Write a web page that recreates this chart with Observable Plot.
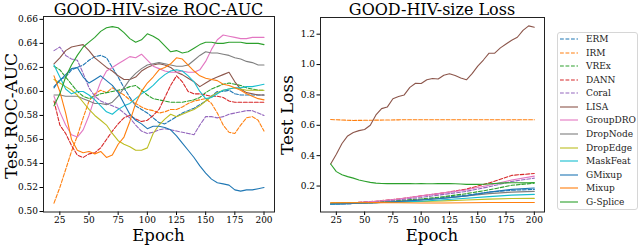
<!DOCTYPE html>
<html><head><meta charset="utf-8">
<script src="https://cdn.jsdelivr.net/npm/d3@7"></script>
<script src="https://cdn.jsdelivr.net/npm/@observablehq/plot@0.6"></script>
<style>
body{margin:0;background:#fff;}
#wrap{position:relative;width:640px;height:246px;font-family:"DejaVu Serif",serif;color:#000;overflow:hidden;background:#fff}
.abs{position:absolute;white-space:nowrap}
.title{font-size:16px;line-height:normal;transform:translateX(-50%)}
.xlab{font-size:16.5px;line-height:14px;transform:translateX(-50%)}
.ylab{font-size:17px;line-height:14px;transform:translate(-50%,-50%) rotate(-90deg)}
#legend{position:absolute;left:557px;top:32px;width:81px;height:178px;border:1px solid #d6d6d6;border-radius:3px;box-sizing:border-box;background:#fff;font-family:"DejaVu Serif",serif}
.lrow{position:absolute;left:0;width:78px;height:12px;font-size:9px;line-height:12px;color:#222;white-space:nowrap}
.lrow svg{position:absolute;left:2px;top:0}
.lrow span{position:absolute;left:28px;top:0}
</style></head>
<body>
<div id="wrap">
  <div id="plotL" class="abs" style="left:0;top:0"></div>
  <div id="plotR" class="abs" style="left:270px;top:0"></div>
  <div class="abs title" style="left:158.5px;top:0px">GOOD-HIV-size ROC-AUC</div>
  <div class="abs title" style="left:432px;top:0px">GOOD-HIV-size Loss</div>
  <div class="abs xlab" style="left:158.5px;top:229px">Epoch</div>
  <div class="abs xlab" style="left:432px;top:229px">Epoch</div>
  <div class="abs ylab" style="left:11px;top:116px">Test ROC-AUC</div>
  <div class="abs ylab" style="left:287px;top:115px">Test Loss</div>
  <div id="legend"></div>
</div>
<script>
const methods = ["ERM","IRM","VREx","DANN","Coral","LISA","GroupDRO","DropNode","DropEdge","MaskFeat","GMixup","Mixup","G-Splice"];
const palette = ["#1f77b4","#ff7f0e","#2ca02c","#d62728","#9467bd","#8c564b","#e377c2","#7f7f7f","#bcbd22","#17becf","#1f77b4","#ff7f0e","#2ca02c"];
const dashedMethods = ["ERM","IRM","VREx","DANN","Coral"];

const xTicks = [25,50,75,100,125,150,175,200];
const aucTicks = [0.50,0.52,0.54,0.56,0.58,0.60,0.62,0.64,0.66];
const lossTicks = [0.2,0.4,0.6,0.8,1.0,1.2];

const epochs = [20,25,30,35,40,45,50,55,60,65,70,75,80,85,90,95,100,105,110,115,120,125,130,135,140,145,150,155,160,165,170,175,180,185,190,195,200];

const aucERM      = [0.603,0.610,0.612,0.618,0.620,0.622,0.626,0.629,0.630,0.628,0.620,0.612,0.603,0.595,0.588,0.585,0.582,0.578,0.574,0.573,0.576,0.579,0.582,0.584,0.586,0.589,0.592,0.596,0.600,0.600,0.601,0.598,0.597,0.597,0.597,0.597,0.597];
const aucIRM      = [0.507,0.520,0.535,0.550,0.563,0.578,0.592,0.598,0.601,0.599,0.603,0.600,0.597,0.593,0.590,0.587,0.585,0.584,0.582,0.583,0.585,0.585,0.587,0.590,0.592,0.593,0.594,0.590,0.582,0.572,0.566,0.565,0.572,0.578,0.579,0.576,0.567];
const aucVREx     = [0.621,0.618,0.612,0.606,0.600,0.596,0.594,0.596,0.598,0.599,0.600,0.601,0.602,0.604,0.605,0.601,0.597,0.594,0.593,0.592,0.591,0.591,0.591,0.592,0.593,0.595,0.599,0.602,0.604,0.606,0.607,0.606,0.605,0.603,0.602,0.601,0.601];
const aucDANN     = [0.592,0.572,0.565,0.555,0.547,0.545,0.548,0.549,0.553,0.560,0.567,0.573,0.578,0.580,0.577,0.575,0.576,0.580,0.585,0.595,0.605,0.613,0.608,0.600,0.598,0.598,0.597,0.596,0.596,0.595,0.592,0.591,0.591,0.591,0.591,0.591,0.591];
const aucCoral    = [0.634,0.637,0.630,0.627,0.626,0.615,0.603,0.596,0.592,0.590,0.588,0.586,0.582,0.578,0.572,0.567,0.565,0.566,0.568,0.569,0.568,0.567,0.566,0.565,0.564,0.572,0.579,0.579,0.578,0.579,0.581,0.582,0.583,0.584,0.584,0.582,0.580];
const aucLISA     = [0.623,0.628,0.634,0.637,0.638,0.639,0.634,0.628,0.624,0.620,0.617,0.613,0.610,0.610,0.612,0.617,0.620,0.622,0.623,0.622,0.620,0.616,0.614,0.611,0.608,0.604,0.607,0.610,0.612,0.614,0.616,0.608,0.602,0.599,0.598,0.597,0.597];
const aucGroupDRO = [0.596,0.583,0.572,0.564,0.562,0.568,0.580,0.595,0.608,0.617,0.620,0.623,0.626,0.629,0.628,0.631,0.626,0.621,0.619,0.617,0.616,0.616,0.617,0.616,0.616,0.618,0.625,0.635,0.643,0.647,0.646,0.645,0.644,0.644,0.645,0.645,0.645];
const aucDropNode = [0.597,0.597,0.596,0.596,0.596,0.594,0.592,0.590,0.590,0.589,0.591,0.596,0.603,0.610,0.615,0.619,0.622,0.623,0.624,0.623,0.622,0.621,0.621,0.622,0.626,0.630,0.633,0.632,0.632,0.631,0.630,0.628,0.627,0.625,0.624,0.622,0.622];
const aucDropEdge = [0.610,0.607,0.604,0.601,0.597,0.591,0.585,0.580,0.576,0.572,0.565,0.559,0.556,0.554,0.551,0.551,0.553,0.565,0.572,0.577,0.581,0.579,0.581,0.583,0.585,0.588,0.592,0.596,0.599,0.601,0.602,0.603,0.602,0.601,0.601,0.601,0.601];
const aucMaskFeat = [0.622,0.612,0.602,0.598,0.600,0.600,0.597,0.593,0.588,0.583,0.581,0.585,0.588,0.590,0.594,0.598,0.601,0.605,0.610,0.614,0.617,0.618,0.617,0.613,0.608,0.600,0.594,0.595,0.598,0.601,0.602,0.603,0.603,0.604,0.604,0.605,0.606];
const aucGMixup   = [0.604,0.609,0.614,0.619,0.620,0.612,0.607,0.610,0.613,0.609,0.605,0.599,0.590,0.581,0.576,0.573,0.569,0.571,0.571,0.570,0.568,0.563,0.557,0.551,0.545,0.538,0.532,0.527,0.524,0.523,0.522,0.518,0.517,0.518,0.518,0.519,0.520];
const aucMixup    = [0.613,0.600,0.582,0.560,0.551,0.549,0.550,0.548,0.550,0.545,0.547,0.556,0.562,0.575,0.590,0.600,0.607,0.612,0.618,0.620,0.623,0.628,0.627,0.622,0.617,0.613,0.611,0.610,0.609,0.606,0.605,0.603,0.601,0.598,0.596,0.594,0.593];
const aucGSplice  = [0.588,0.598,0.612,0.622,0.630,0.637,0.641,0.645,0.650,0.653,0.654,0.653,0.649,0.644,0.641,0.643,0.648,0.646,0.643,0.638,0.633,0.634,0.632,0.633,0.636,0.639,0.641,0.641,0.640,0.640,0.641,0.641,0.641,0.640,0.640,0.640,0.639];

const lossEpochs = [20,40,60,80,100,120,140,160,180,200];
const lossERM      = [0.080,0.085,0.090,0.100,0.110,0.125,0.140,0.160,0.172,0.178];
const lossIRM      = [0.638,0.632,0.634,0.636,0.637,0.637,0.637,0.637,0.637,0.637];
const lossVREx     = [0.085,0.090,0.095,0.105,0.115,0.130,0.150,0.175,0.205,0.218];
const lossDANN     = [0.085,0.090,0.100,0.115,0.135,0.155,0.180,0.220,0.270,0.283];
const lossCoral    = [0.078,0.085,0.097,0.110,0.125,0.145,0.165,0.195,0.230,0.252];
const lossGroupDRO = [0.085,0.090,0.100,0.115,0.135,0.155,0.175,0.205,0.240,0.265];
const lossDropNode = [0.085,0.088,0.092,0.100,0.110,0.120,0.135,0.150,0.160,0.165];
const lossDropEdge = [0.090,0.090,0.092,0.095,0.098,0.102,0.108,0.114,0.118,0.119];
const lossMaskFeat = [0.080,0.085,0.090,0.095,0.100,0.110,0.120,0.130,0.140,0.145];
const lossGMixup   = [0.082,0.085,0.090,0.098,0.108,0.120,0.135,0.160,0.178,0.187];
const lossMixup    = [0.090,0.090,0.092,0.090,0.088,0.088,0.090,0.092,0.092,0.092];
const lossLISA     = [0.345,0.410,0.480,0.530,0.553,0.565,0.572,0.600,0.668,0.710,0.720,0.775,0.790,0.800,0.850,0.877,0.875,0.900,0.908,0.905,0.930,0.940,0.928,0.912,0.900,0.940,0.990,1.030,1.075,1.075,1.110,1.135,1.160,1.180,1.225,1.255,1.246];
const lossGSplice  = [0.345,0.295,0.275,0.262,0.252,0.240,0.232,0.224,0.219,0.217,0.216,0.216,0.217,0.216,0.216,0.215,0.216,0.215,0.215,0.216,0.216,0.217,0.215,0.213,0.211,0.211,0.211,0.212,0.214,0.217,0.219,0.221,0.222,0.222,0.221,0.222,0.223];

const aucSeries = [aucERM,aucIRM,aucVREx,aucDANN,aucCoral,aucLISA,aucGroupDRO,aucDropNode,aucDropEdge,aucMaskFeat,aucGMixup,aucMixup,aucGSplice];
const lossSeries = [
  [lossEpochs,lossERM],[lossEpochs,lossIRM],[lossEpochs,lossVREx],[lossEpochs,lossDANN],[lossEpochs,lossCoral],
  [epochs,lossLISA],[lossEpochs,lossGroupDRO],[lossEpochs,lossDropNode],[lossEpochs,lossDropEdge],[lossEpochs,lossMaskFeat],
  [lossEpochs,lossGMixup],[lossEpochs,lossMixup],[epochs,lossGSplice]
];

const DASH = "3.8,1.7";
function lineMarks(list) {
  return list.map(([xs, ys], i) => Plot.line(xs.map((e, j) => ({epoch: e, value: ys[j]})), {
    x: "epoch", y: "value", stroke: palette[i], strokeWidth: 1.1,
    strokeDasharray: dashedMethods.includes(methods[i]) ? DASH : null,
    curve: "linear"
  }));
}
const baseStyle = {fontFamily: "'DejaVu Serif', serif", fontSize: "9px", color: "#000", background: "transparent", overflow: "visible"};

const left = Plot.plot({
  width: 280, height: 246,
  marginLeft: 43, marginRight: 6, marginTop: 16, marginBottom: 34.5,
  style: baseStyle,
  x: {domain: [11, 209], ticks: xTicks, tickSize: 3.5, tickPadding: 1.5, label: null},
  y: {domain: [0.4996, 0.6624], ticks: aucTicks, tickFormat: d3.format(".2f"), tickSize: 3.5, tickPadding: 2, label: null},
  marks: [
    ...lineMarks(aucSeries.map(s => [epochs, s])),
    Plot.frame({stroke: "#222", strokeWidth: 1})
  ]
});
document.getElementById("plotL").appendChild(left);

const right = Plot.plot({
  width: 280, height: 246,
  marginLeft: 50, marginRight: 6, marginTop: 17, marginBottom: 34.5,
  style: baseStyle,
  x: {domain: [11, 209], ticks: xTicks, tickSize: 3.5, tickPadding: 1.5, label: null},
  y: {domain: [0.029, 1.31], ticks: lossTicks, tickFormat: d3.format(".1f"), tickSize: 3.5, tickPadding: 2, label: null},
  marks: [
    ...lineMarks(lossSeries),
    Plot.frame({stroke: "#222", strokeWidth: 1})
  ]
});
document.getElementById("plotR").appendChild(right);

// legend
const legend = document.getElementById("legend");
methods.forEach((m, i) => {
  const row = document.createElement("div");
  row.className = "lrow";
  row.style.top = (7.3 + i * 13.53 - 6 - 1) + "px";
  const dash = dashedMethods.includes(m) ? `stroke-dasharray="${DASH}"` : "";
  row.innerHTML = `<svg width="20" height="12"><line x1="0" x2="18" y1="6" y2="6" stroke="${palette[i]}" stroke-width="1.1" ${dash}/></svg><span>${m}</span>`;
  legend.appendChild(row);
});
</script>
</body></html>
